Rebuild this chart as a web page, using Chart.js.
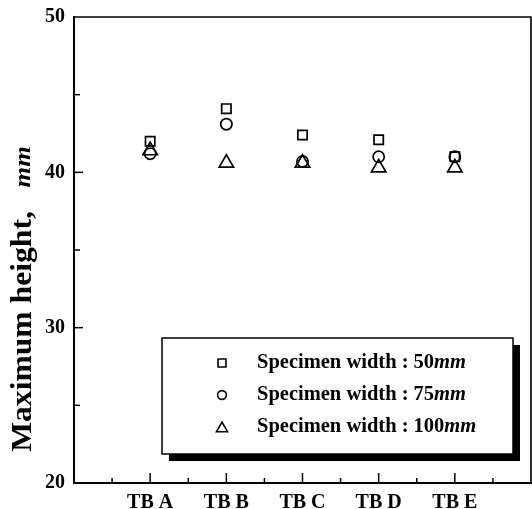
<!DOCTYPE html>
<html>
<head>
<meta charset="utf-8">
<script src="https://cdn.jsdelivr.net/npm/chart.js@4"></script>
<style>
  body { margin: 0; background: #fff; }
  #wrap { width: 532px; height: 509px; }
</style>
</head>
<body>
<div id="wrap"><canvas id="chart"></canvas></div>
<script>
const categories = ["TB A", "TB B", "TB C", "TB D", "TB E"];
const width50 = [42.0, 44.1, 42.4, 42.1, 41.0];
const width75 = [41.2, 43.1, 40.7, 41.0, 41.0];
const width100 = [41.4, 40.6, 40.6, 40.3, 40.3];
const seriesNames = ["Specimen width : 50", "Specimen width : 75", "Specimen width : 100"];
const seriesUnit = "mm";
const yTicks = [20, 30, 40, 50];
const yTitle = "Maximum height,";
const yTitleUnit = "mm";

const FONT = "'Liberation Serif', 'Times New Roman', serif";

const toPoints = (vals) => vals.map((v, i) => ({ x: i, y: v }));

const styles = [
  { pointStyle: "rect", radius: 6.6 },
  { pointStyle: "circle", radius: 5.6 },
  { pointStyle: "triangle", radius: 8.3 },
];

const frameAndTicks = {
  id: "frameAndTicks",
  afterDraw(chart) {
    const { ctx, chartArea: a, scales } = chart;
    const x = scales.x, y = scales.y;
    ctx.save();
    ctx.strokeStyle = "#000";
    ctx.lineCap = "square";
    // left + bottom axes
    ctx.lineWidth = 2;
    ctx.beginPath();
    ctx.moveTo(a.left, a.top);
    ctx.lineTo(a.left, a.bottom);
    ctx.lineTo(a.right, a.bottom);
    ctx.stroke();
    // top + right frame
    ctx.lineWidth = 1.6;
    ctx.beginPath();
    ctx.moveTo(a.left, a.top);
    ctx.lineTo(a.right, a.top);
    ctx.lineTo(a.right, a.bottom);
    ctx.stroke();
    // inward ticks
    ctx.lineWidth = 1.5;
    ctx.lineCap = "butt";
    for (let v = 25; v < 50; v += 5) {
      const py = y.getPixelForValue(v);
      const len = v % 10 === 0 ? 9 : 6;
      ctx.beginPath();
      ctx.moveTo(a.left, py);
      ctx.lineTo(a.left + len, py);
      ctx.stroke();
    }
    for (let v = -0.5; v < 5; v += 0.5) {
      const px = x.getPixelForValue(v);
      const len = Number.isInteger(v) ? 10 : 5;
      ctx.beginPath();
      ctx.moveTo(px, a.bottom);
      ctx.lineTo(px, a.bottom - len);
      ctx.stroke();
    }
    ctx.restore();
  },
};

const yTitlePlugin = {
  id: "yTitlePlugin",
  afterDraw(chart) {
    const { ctx } = chart;
    ctx.save();
    ctx.fillStyle = "#000";
    const f1 = "bold 31px " + FONT;
    const f2 = "italic bold 26px " + FONT;
    ctx.font = f1;
    const part1 = yTitle + "   ";
    const w1 = ctx.measureText(part1).width;
    ctx.font = f2;
    const w2 = ctx.measureText(yTitleUnit).width;
    ctx.translate(24, 299);
    ctx.rotate(-Math.PI / 2);
    ctx.scale(1.02, 0.92);
    ctx.textBaseline = "middle";
    ctx.textAlign = "left";
    const start = -(w1 + w2) / 2;
    ctx.font = f1;
    ctx.fillText(part1, start, 0);
    ctx.font = f2;
    ctx.fillText(yTitleUnit, start + w1, 0);
    ctx.restore();
  },
};

const boxLegend = {
  id: "boxLegend",
  afterDraw(chart) {
    const { ctx } = chart;
    const box = { l: 162, t: 338, r: 513, b: 454 };
    ctx.save();
    // shadow
    ctx.fillStyle = "#000";
    ctx.fillRect(box.r, box.t + 7, 7, box.b - box.t);
    ctx.fillRect(box.l + 7, box.b, box.r - box.l, 7);
    ctx.fillStyle = "#fff";
    ctx.fillRect(box.l, box.t, box.r - box.l, box.b - box.t);
    ctx.strokeStyle = "#000";
    ctx.lineWidth = 1.5;
    ctx.strokeRect(box.l, box.t, box.r - box.l, box.b - box.t);
    const rows = [363, 395, 427];
    chart.data.datasets.forEach((ds, i) => {
      ctx.strokeStyle = "#000";
      ctx.fillStyle = "#fff";
      ctx.lineWidth = 1.6;
      Chart.helpers.drawPoint(ctx, {
        pointStyle: ds.pointStyle,
        radius: ds.pointStyle === "triangle" ? 6.4 : ds.pointStyle === "rect" ? 5.6 : 4.4,
        borderWidth: 1.6,
        rotation: 0,
      }, 222, rows[i] + (ds.pointStyle === "triangle" ? 1.5 : 0));
      ctx.fillStyle = "#000";
      ctx.textBaseline = "middle";
      ctx.textAlign = "left";
      ctx.font = "bold 20.5px " + FONT;
      ctx.fillText(seriesNames[i], 257, rows[i]);
      const w = ctx.measureText(seriesNames[i]).width;
      ctx.font = "italic bold 20.5px " + FONT;
      ctx.fillText(seriesUnit, 257 + w, rows[i]);
    });
    ctx.restore();
  },
};

const series = [width50, width75, width100];

new Chart(document.getElementById("chart"), {
  type: "scatter",
  data: {
    datasets: series.map((vals, i) => ({
      label: seriesNames[i] + seriesUnit,
      data: toPoints(vals),
      pointStyle: styles[i].pointStyle,
      pointRadius: styles[i].radius,
      pointHoverRadius: styles[i].radius,
      backgroundColor: "rgba(255,255,255,0)",
      borderColor: "#000",
      pointBorderWidth: 1.7,
    })),
  },
  options: {
    responsive: true,
    maintainAspectRatio: false,
    animation: false,
    layout: { autoPadding: false, padding: { top: 17, right: 1, left: 0, bottom: 0 } },
    plugins: {
      legend: { display: false },
      tooltip: { enabled: false },
    },
    scales: {
      x: {
        type: "linear",
        min: -1,
        max: 5,
        afterFit: (s) => { s.height = 26; s.paddingLeft = 0; s.paddingRight = 0; },
        afterBuildTicks: (s) => { s.ticks = categories.map((c, i) => ({ value: i })); },
        grid: { display: false, drawTicks: false },
        border: { display: false },
        ticks: {
          color: "#000",
          padding: 8,
          maxRotation: 0,
          font: { family: FONT, size: 20, weight: "bold" },
          callback: (v) => categories[v],
        },
      },
      y: {
        min: 20,
        max: 50,
        afterFit: (s) => { s.width = 74; s.paddingTop = 0; s.paddingBottom = 0; },
        afterBuildTicks: (s) => { s.ticks = yTicks.map((v) => ({ value: v })); },
        grid: { display: false, drawTicks: false },
        border: { display: false },
        ticks: {
          color: "#000",
          padding: 9,
          font: { family: FONT, size: 20, weight: "bold" },
        },
      },
    },
  },
  plugins: [frameAndTicks, yTitlePlugin, boxLegend],
});
</script>
</body>
</html>
